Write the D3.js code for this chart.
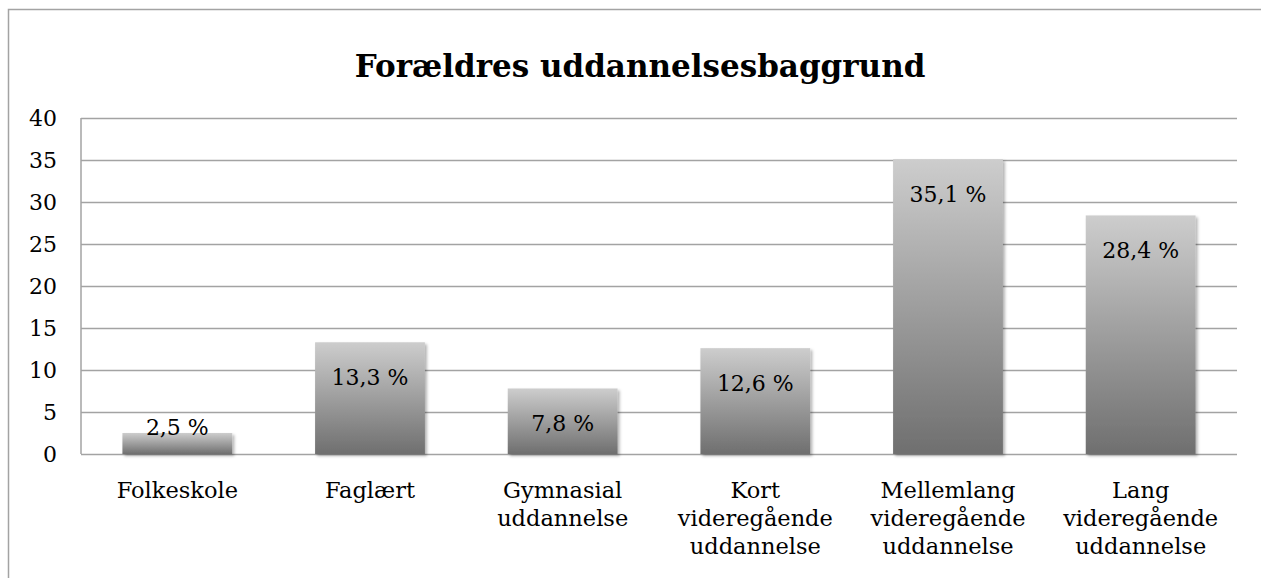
<!DOCTYPE html>
<html lang="da">
<head>
<meta charset="UTF-8">
<title>Forældres uddannelsesbaggrund</title>
<script src="https://cdn.jsdelivr.net/npm/d3@7"></script>
<style>
  html, body { margin: 0; padding: 0; background: #fff; }
  svg { display: block; font-family: "DejaVu Serif", serif; }
</style>
</head>
<body>
<script>
  const title = "Forældres uddannelsesbaggrund";
  const categories = [
    ["Folkeskole"],
    ["Faglært"],
    ["Gymnasial", "uddannelse"],
    ["Kort", "videregående", "uddannelse"],
    ["Mellemlang", "videregående", "uddannelse"],
    ["Lang", "videregående", "uddannelse"]
  ];
  const values = [2.5, 13.3, 7.8, 12.6, 35.1, 28.4];
  const yTicks = [0, 5, 10, 15, 20, 25, 30, 35, 40];

  const width = 1261, height = 578;
  const plot = { left: 81, right: 1237, top: 118, bottom: 454 };
  const gridColor = "#a3a3a3";

  const svg = d3.select("body").append("svg")
    .attr("width", width)
    .attr("height", height);

  const defs = svg.append("defs");
  const grad = defs.append("linearGradient")
    .attr("id", "barGrad")
    .attr("x1", 0).attr("y1", 0).attr("x2", 0).attr("y2", 1);
  grad.append("stop").attr("offset", "0%").attr("stop-color", "#cdcdcd");
  grad.append("stop").attr("offset", "100%").attr("stop-color", "#6f6f6f");

  defs.append("filter")
    .attr("id", "shadow")
    .attr("x", "-10%").attr("y", "-10%").attr("width", "130%").attr("height", "130%")
    .append("feDropShadow")
    .attr("dx", 2).attr("dy", 2)
    .attr("stdDeviation", 1.6)
    .attr("flood-color", "#000")
    .attr("flood-opacity", 0.3);

  // chart frame (runs past the right and bottom edges)
  svg.append("rect")
    .attr("x", 8.5).attr("y", 9.5)
    .attr("width", 1300).attr("height", 620)
    .attr("fill", "none")
    .attr("stroke", gridColor)
    .attr("stroke-width", 1.5);

  svg.append("text")
    .attr("x", 640)
    .attr("y", 77)
    .attr("text-anchor", "middle")
    .style("font-size", "31px")
    .style("font-weight", "bold")
    .attr("fill", "#000")
    .text(title);

  const x = d3.scaleBand()
    .domain(d3.range(categories.length))
    .range([plot.left, plot.right])
    .paddingInner(0.43)
    .paddingOuter(0.215);

  const y = d3.scaleLinear()
    .domain([0, 40])
    .range([plot.bottom, plot.top]);

  // grid lines
  svg.append("g")
    .attr("transform", `translate(${plot.left},0)`)
    .call(d3.axisLeft(y).tickValues(yTicks).tickSize(-(plot.right - plot.left)).tickFormat(""))
    .call(g => g.select(".domain").remove())
    .call(g => g.selectAll("line").attr("stroke", gridColor).attr("stroke-width", 1.5));

  // left axis line
  svg.append("line")
    .attr("x1", plot.left).attr("x2", plot.left)
    .attr("y1", plot.top).attr("y2", plot.bottom)
    .attr("stroke", gridColor).attr("stroke-width", 1.5);

  // y tick labels
  svg.append("g")
    .selectAll("text")
    .data(yTicks)
    .enter()
    .append("text")
    .attr("x", 57)
    .attr("y", d => y(d))
    .attr("dy", "0.36em")
    .attr("text-anchor", "end")
    .style("font-size", "22px")
    .attr("fill", "#000")
    .text(d => d);

  // bars
  svg.append("g")
    .selectAll("rect")
    .data(values)
    .enter()
    .append("rect")
    .attr("x", (d, i) => x(i))
    .attr("y", d => y(d))
    .attr("width", x.bandwidth())
    .attr("height", d => y(0) - y(d))
    .attr("fill", "url(#barGrad)")
    .attr("filter", "url(#shadow)");

  // value labels
  const fmt = v => v.toFixed(1).replace(".", ",") + " %";
  svg.append("g")
    .selectAll("text")
    .data(values)
    .enter()
    .append("text")
    .attr("x", (d, i) => x(i) + x.bandwidth() / 2)
    .attr("y", d => Math.min(y(d) + 43, y(0) - 19))
    .attr("text-anchor", "middle")
    .style("font-size", "22px")
    .attr("fill", "#000")
    .text(fmt);

  // category labels
  const cat = svg.append("g")
    .selectAll("text")
    .data(categories)
    .enter()
    .append("text")
    .attr("text-anchor", "middle")
    .style("font-size", "22.5px")
    .attr("fill", "#000");
  cat.each(function (lines, i) {
    const t = d3.select(this);
    lines.forEach((line, k) => {
      t.append("tspan")
        .attr("x", x(i) + x.bandwidth() / 2)
        .attr("y", plot.bottom + 44 + k * 28)
        .text(line);
    });
  });
</script>
</body>
</html>
